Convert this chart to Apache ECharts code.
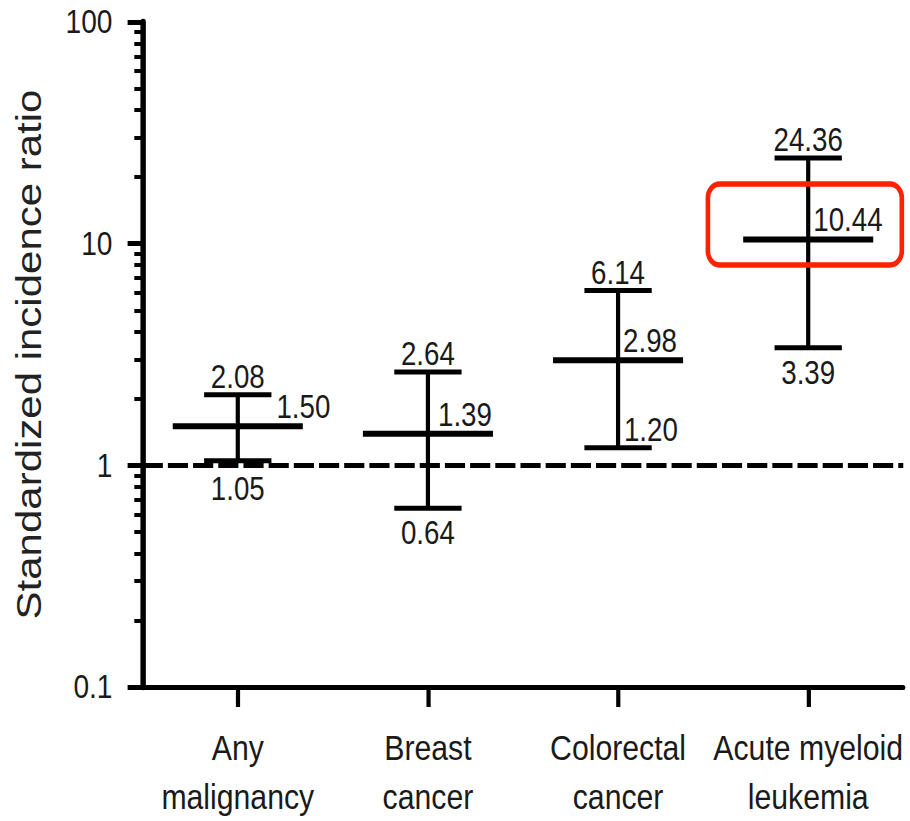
<!DOCTYPE html>
<html>
<head>
<meta charset="utf-8">
<script src="https://cdn.jsdelivr.net/npm/echarts@6/dist/echarts.min.js"></script>
<style>
html,body{margin:0;padding:0;background:#fff;overflow:hidden;}
#wrap{width:910px;height:821px;overflow:hidden;position:relative;}
/* the reference figure is horizontally condensed; draw at full width and condense */
#chart{width:1084px;height:821px;transform:scaleX(0.83948);transform-origin:0 0;}
</style>
</head>
<body>
<div id="wrap"><div id="chart"></div></div>
<script>
// ---- data ----
const categories = ['Any\nmalignancy', 'Breast\ncancer', 'Colorectal\ncancer', 'Acute myeloid\nleukemia'];
const sirMean = [1.50, 1.39, 2.98, 10.44];
const ciLower = [1.05, 0.64, 1.20, 3.39];
const ciUpper = [2.08, 2.64, 6.14, 24.36];
const yMinorTickValues = [0.2, 0.3, 0.4, 0.5, 0.6, 0.7, 0.8, 0.9, 2, 3, 4, 5, 6, 7, 8, 9, 20, 30, 40, 50, 60, 70, 80, 90];
const referenceValue = 1;
const highlighted = [false, false, false, true];

// ---- layout / style ----
const meanLabelDx = [46, 12, 6, 6];
const lowerLabelMode = ['below', 'below', 'right', 'below'];
const FONT = '"Liberation Sans", Arial, Helvetica, sans-serif';
const TXT = '#1a1a1a';

const chart = echarts.init(document.getElementById('chart'), null, {renderer: 'svg'});

function renderItem(params, api) {
  const i = api.value(0);
  const pm = api.coord([i, api.value(1)]);
  const pl = api.coord([i, api.value(2)]);
  const pu = api.coord([i, api.value(3)]);
  const band = api.size([1, 1])[0];
  const cx = pm[0];
  const meanHalf = band * 0.342;
  const capHalf = band * 0.177;
  const font = '33px ' + FONT;
  const kids = [
    {type: 'line', shape: {x1: cx, y1: pu[1], x2: cx, y2: pl[1]}, style: {stroke: '#000', lineWidth: 5}},
    {type: 'line', shape: {x1: cx - capHalf, y1: pu[1], x2: cx + capHalf, y2: pu[1]}, style: {stroke: '#000', lineWidth: 5}},
    {type: 'line', shape: {x1: cx - capHalf, y1: pl[1], x2: cx + capHalf, y2: pl[1]}, style: {stroke: '#000', lineWidth: 5}},
    {type: 'line', shape: {x1: cx - meanHalf, y1: pm[1], x2: cx + meanHalf, y2: pm[1]}, style: {stroke: '#000', lineWidth: 6}},
    {type: 'text', x: cx, y: pu[1] - 19, style: {text: api.value(3).toFixed(2), font: font, fill: TXT, align: 'center', verticalAlign: 'middle'}},
    {type: 'text', x: cx + meanLabelDx[i], y: pm[1] - 20, style: {text: api.value(1).toFixed(2), font: font, fill: TXT, align: 'left', verticalAlign: 'middle'}}
  ];
  if (lowerLabelMode[i] === 'right') {
    kids.push({type: 'text', x: cx + 7, y: pl[1] - 19, style: {text: api.value(2).toFixed(2), font: font, fill: TXT, align: 'left', verticalAlign: 'middle'}});
  } else {
    kids.push({type: 'text', x: cx, y: pl[1] + (i === 0 ? 27 : 24), style: {text: api.value(2).toFixed(2), font: font, fill: TXT, align: 'center', verticalAlign: 'middle'}});
  }
  if (highlighted[i]) {
    kids.push({type: 'rect', shape: {x: cx - 119.5, y: pm[1] - 55.5, width: 231, height: 81, r: 14},
      style: {fill: 'none', stroke: '#ff2200', lineWidth: 5.5}});
  }
  return {type: 'group', children: kids};
}

const option = {
  backgroundColor: '#fff',
  animation: false,
  grid: {left: 170, right: 8, top: 22, bottom: 133, containLabel: false},
  xAxis: {
    type: 'category',
    data: categories,
    boundaryGap: true,
    axisLine: {show: true, lineStyle: {color: '#000', width: 5}},
    axisTick: {show: true, alignWithLabel: true, length: 20, lineStyle: {color: '#000', width: 5}},
    axisLabel: {show: true, interval: 0, margin: 36, color: TXT, fontSize: 36, fontFamily: FONT, lineHeight: 49, align: 'center'},
    splitLine: {show: false}
  },
  yAxis: [
    {
      type: 'log',
      logBase: 10,
      min: 0.1,
      max: 100,
      name: 'Standardized incidence ratio',
      nameLocation: 'middle',
      nameGap: 115,
      nameTextStyle: {fontSize: 42, fontFamily: FONT, color: '#222'},
      axisLine: {show: true, lineStyle: {color: '#000', width: 6.5}},
      axisTick: {show: true, length: 18, lineStyle: {color: '#000', width: 5}},
      axisLabel: {show: true, margin: 36, color: TXT, fontSize: 33.5, fontFamily: FONT, showMinLabel: true, showMaxLabel: true,
        formatter: function (v) { return String(+v.toPrecision(6)); }},
      splitLine: {show: false},
      minorTick: {show: false}
    },
    {
      type: 'log',
      logBase: 10,
      min: 0.1,
      max: 100,
      position: 'left',
      axisLine: {show: false},
      axisTick: {show: true, length: 10, lineStyle: {color: '#000', width: 4}, customValues: yMinorTickValues},
      axisLabel: {show: false},
      splitLine: {show: false}
    }
  ],
  series: [
    {
      type: 'custom',
      xAxisIndex: 0,
      yAxisIndex: 0,
      clip: false,
      encode: {x: 0, y: [1, 2, 3]},
      data: categories.map((c, i) => [i, sirMean[i], ciLower[i], ciUpper[i]]),
      renderItem: renderItem,
      markLine: {
        silent: true,
        symbol: 'none',
        label: {show: false},
        lineStyle: {color: '#000', width: 5, type: [24, 6]},
        data: [{yAxis: referenceValue}]
      },
      z: 3
    }
  ]
};
chart.setOption(option);
</script>
</body>
</html>
